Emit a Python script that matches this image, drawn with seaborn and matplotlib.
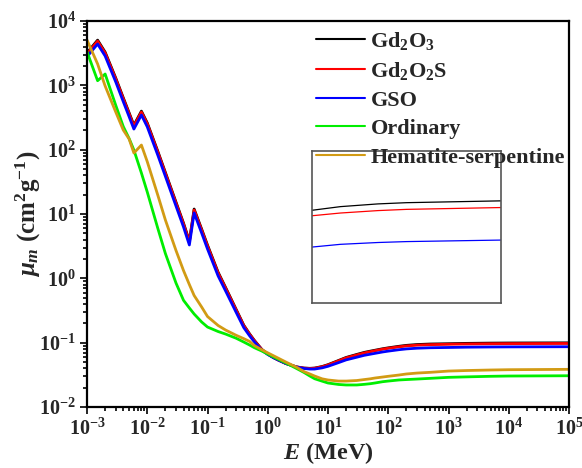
import numpy as np
import pandas as pd
import matplotlib
matplotlib.use("Agg")
import matplotlib.pyplot as plt
import seaborn as sns
from matplotlib.ticker import LogLocator, FuncFormatter, NullFormatter, NullLocator
from matplotlib.lines import Line2D

# ---------------- data ----------------
energy = [1e-3, 1.5e-3, 2e-3, 3e-3, 4e-3, 5e-3, 6e-3, 8e-3,
          1e-2, 1.5e-2, 2e-2, 3e-2, 4e-2, 5e-2, 6e-2, 8e-2,
          0.1, 0.15, 0.2, 0.3, 0.4, 0.5, 0.6, 0.8,
          1, 1.25, 1.5, 2, 3, 4, 5, 6, 8,
          10, 15, 20, 30, 40, 50, 60, 80,
          100, 150, 200, 300, 500,
          1e3, 2e3, 5e3, 1e4, 1e5]

gd2o3 = [3198, 5040, 3280, 1297, 640.6, 374.2, 239.9, 397.2,
         260.6, 93.79, 44.20, 15.27, 7.209, 3.788, 11.94, 5.809,
         3.283, 1.243, 0.7176, 0.3263, 0.1868, 0.1366, 0.1083, 0.0783,
         0.0666, 0.0586, 0.0537, 0.0474, 0.0420, 0.0403, 0.0399, 0.0403, 0.0426,
         0.0455, 0.0529, 0.0589, 0.0656, 0.0706, 0.0737, 0.0762, 0.0803,
         0.0831, 0.0878, 0.0908, 0.0935, 0.0953,
         0.0963, 0.0975, 0.0984, 0.0988, 0.0994]

gd2o2s = [3092, 4873, 3171, 1254, 619.4, 361.9, 232.0, 384.1,
          252.0, 90.69, 42.74, 14.76, 6.971, 3.663, 11.54, 5.617,
          3.175, 1.204, 0.6985, 0.3190, 0.1834, 0.1347, 0.1073, 0.0779,
          0.0664, 0.0585, 0.0537, 0.0474, 0.0420, 0.0402, 0.0397, 0.0400, 0.0422,
          0.0450, 0.0522, 0.0581, 0.0644, 0.0693, 0.0724, 0.0750, 0.0791,
          0.0819, 0.0862, 0.0890, 0.0915, 0.0932,
          0.0945, 0.0954, 0.0962, 0.0966, 0.0972]

gso = [2786, 4390, 2857, 1130, 558, 326, 209, 346,
       227, 81.7, 38.5, 13.3, 6.28, 3.30, 10.4, 5.06,
       2.86, 1.09, 0.635, 0.294, 0.1714, 0.1277, 0.1027, 0.0760,
       0.0656, 0.0583, 0.0537, 0.0474, 0.0418, 0.0397, 0.0389, 0.0389, 0.0406,
       0.0429, 0.0490, 0.0540, 0.0594, 0.0636, 0.0661, 0.0682, 0.0716,
       0.0739, 0.0777, 0.0800, 0.0820, 0.0834,
       0.0842, 0.0851, 0.0857, 0.0860, 0.0865]

ordinary = [3334, 1180, 1500, 489.5, 229, 149, 98.8, 43.4,
            22.0, 5.95, 2.43, 0.845, 0.455, 0.346, 0.279, 0.2095,
            0.175, 0.149, 0.136, 0.117, 0.1023, 0.0919, 0.0835, 0.0740,
            0.0666, 0.0598, 0.0551, 0.0483, 0.0397, 0.0344, 0.0303, 0.0275, 0.0252,
            0.0236, 0.0224, 0.0220, 0.0220, 0.0225, 0.0230, 0.0236, 0.0247,
            0.0253, 0.0263, 0.0267, 0.0272, 0.0279,
            0.0289, 0.0294, 0.0300, 0.0303, 0.0306]

hematite = [5070, 2150, 977, 385, 202, 146.5, 88.8, 118,
            65.2, 19.5, 8.07, 2.71, 1.32, 0.80, 0.541, 0.358,
            0.255, 0.185, 0.157, 0.130, 0.1155, 0.1045, 0.0900, 0.0775,
            0.0695, 0.0625, 0.0573, 0.0500, 0.0415, 0.0355, 0.0326, 0.0303, 0.0274,
            0.0263, 0.0253, 0.0253, 0.0258, 0.0267, 0.0274, 0.0282, 0.0292,
            0.0300, 0.0314, 0.0326, 0.0337, 0.0346,
            0.0362, 0.0369, 0.0376, 0.0380, 0.0385]

names = ["Gd$_2$O$_3$", "Gd$_2$O$_2$S", "GSO", "Ordinary", "Hematite-serpentine"]
colors = ["#000000", "#ff0000", "#0000ff", "#00ee00", "#d29b14"]
series = [gd2o3, gd2o2s, gso, ordinary, hematite]

# ---------------- style ----------------
sns.set_style("ticks")
plt.rcParams["font.family"] = ["Liberation Serif", "DejaVu Serif"]
plt.rcParams["font.weight"] = "bold"
plt.rcParams["axes.labelweight"] = "bold"
plt.rcParams["mathtext.fontset"] = "custom"
plt.rcParams["mathtext.rm"] = "Liberation Serif:bold"
plt.rcParams["mathtext.it"] = "Liberation Serif:italic:bold"
plt.rcParams["mathtext.bf"] = "Liberation Serif:bold"
plt.rcParams["mathtext.default"] = "it"

df = pd.concat([pd.DataFrame({"E": energy, "mu": s, "Material": n})
                for n, s in zip(names, series)], ignore_index=True)

W, H = 582, 468
fig = plt.figure(figsize=(W / 100, H / 100), dpi=100)
L, R, T, B = 87, 569, 21, 407
ax = fig.add_axes([L / W, 1 - B / H, (R - L) / W, (B - T) / H])

sns.lineplot(data=df, x="E", y="mu", hue="Material", hue_order=names,
             palette=colors, linewidth=2.0, estimator=None, sort=False,
             legend=False, ax=ax)
ax.set_xscale("log")
ax.set_yscale("log")
ax.set_xlim(1e-3, 1e5)
ax.set_ylim(1e-2, 1e4)

fmt = FuncFormatter(lambda v, p: r"$10^{%d}$" % int(round(np.log10(v))))
for axis in (ax.xaxis, ax.yaxis):
    axis.set_major_locator(LogLocator(base=10, numticks=20))
    axis.set_minor_locator(LogLocator(base=10, subs=np.arange(2, 10), numticks=200))
    axis.set_major_formatter(fmt)
    axis.set_minor_formatter(NullFormatter())
ax.tick_params(which="both", direction="out", top=False, right=False,
               color="black", labelsize=14.5, width=1.2)
ax.tick_params(which="major", length=5, pad=3)
ax.tick_params(which="minor", length=3)
for s in ax.spines.values():
    s.set_visible(True)
    s.set_linewidth(1.6)
    s.set_color("black")

ax.set_xlabel("$E$ (MeV)", fontsize=17.5, labelpad=0.5)
ax.set_ylabel(r"$\mu_m$ (cm$^2$g$^{-1}$)", fontsize=18, labelpad=-3)

# ---------------- inset ----------------
ins = ax.inset_axes([(312 - L) / (R - L), (B - 303) / (B - T),
                     (501 - 312) / (R - L), (303 - 151) / (B - T)])
sub = df[(df["E"] >= 1e3) & (df["Material"].isin(names[:3]))]
sns.lineplot(data=sub, x="E", y="mu", hue="Material", hue_order=names[:3],
             palette=colors[:3], linewidth=0.9, estimator=None, sort=False,
             legend=False, ax=ins)
ins.set_xscale("log")
ins.set_xlim(1e3, 1e5)
ins.set_ylim(0.0658, 0.1158)
ins.xaxis.set_major_locator(NullLocator())
ins.xaxis.set_minor_locator(NullLocator())
ins.yaxis.set_major_locator(NullLocator())
ins.yaxis.set_minor_locator(NullLocator())
ins.set_xlabel("")
ins.set_ylabel("")
ins.patch.set_alpha(0)
for s in ins.spines.values():
    s.set_visible(True)
    s.set_linewidth(1.2)
    s.set_color("#555555")

# ---------------- legend ----------------
handles = [Line2D([], [], color=c, lw=1.5) for c in colors]
leg = ax.legend(handles, names, loc="upper left",
                bbox_to_anchor=((316 - L) / (R - L), (B - 30) / (B - T)),
                frameon=False, borderpad=0, borderaxespad=0,
                handlelength=2.2, handletextpad=0.25, labelspacing=0.36,
                fontsize=16)
leg.set_zorder(10)

fig.savefig("out.png", dpi=100)
